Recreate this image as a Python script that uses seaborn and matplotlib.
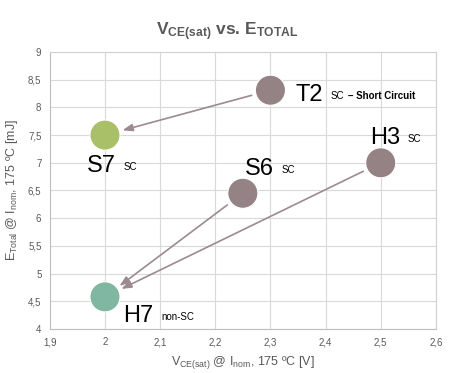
import matplotlib
matplotlib.use("Agg")
import matplotlib.pyplot as plt
import pandas as pd
import seaborn as sns

# Data
devices = ["T2", "S7", "S6", "H3", "H7"]
vce_sat = [2.30, 2.00, 2.25, 2.50, 2.00]
e_total = [8.31, 7.50, 6.45, 7.00, 4.58]
suffixes = ["SC", "SC", "SC", "SC", "non-SC"]
colors = ["#958285", "#a9bf68", "#958285", "#958285", "#80b7a3"]
# arrows: (from, to)
arrows = [("T2", "S7"), ("S6", "H7"), ("H3", "H7")]

x_ticks = [1.9, 2.0, 2.1, 2.2, 2.3, 2.4, 2.5, 2.6]
y_ticks = [4, 4.5, 5, 5.5, 6, 6.5, 7, 7.5, 8, 8.5, 9]

df = pd.DataFrame({"device": devices, "vce": vce_sat, "etot": e_total})

sns.set_theme(style="whitegrid")
plt.rcParams["font.family"] = ["Liberation Sans", "DejaVu Sans"]
plt.rcParams["mathtext.fontset"] = "custom"
plt.rcParams["mathtext.rm"] = "Liberation Sans"
plt.rcParams["mathtext.bf"] = "Liberation Sans:bold"

fig = plt.figure(figsize=(4.55, 3.73), dpi=100)
ax = fig.add_axes([0.1095, 0.118, 0.8485, 0.7426])

sns.scatterplot(data=df, x="vce", y="etot", hue="device", palette=colors,
                s=470, edgecolor="white", linewidth=0.8, legend=False, ax=ax, zorder=3)

grey = "#595959"
ax.set_xlim(1.9, 2.6)
ax.set_ylim(4, 9)
ax.set_xticks(x_ticks)
ax.set_yticks(y_ticks)
fmt = lambda v: f"{v:g}".replace(".", ",")
ax.set_xticklabels([fmt(v) for v in x_ticks], fontsize=7, color=grey)
ax.set_yticklabels([fmt(v) for v in y_ticks], fontsize=7, color=grey)
ax.tick_params(length=0, pad=6)
ax.grid(color="#d9d9d9", linewidth=0.8)
for side, sp in ax.spines.items():
    sp.set_color("#d0d0d0")
    sp.set_linewidth(0.8)
ax.spines["left"].set_color("#bfbfbf")
ax.spines["bottom"].set_color("#bfbfbf")

ax.set_xlabel(r"V$_{\mathrm{CE(sat)}}$ @ I$_{\mathrm{nom}}$, 175 ºC [V]", fontsize=9, color=grey, labelpad=5)
ax.set_ylabel(r"E$_{\mathrm{Total}}$ @ I$_{\mathrm{nom}}$, 175 ºC [mJ]", fontsize=9, color=grey, labelpad=6)
fig.text(0.5, 0.884, r"$\mathbf{V_{CE(sat)}}$ vs. $\mathbf{E_{TOTAL}}$",
         ha="center", va="bottom", fontsize=12.5, fontweight="bold", color=grey)

# arrows between devices
pos = dict(zip(devices, zip(vce_sat, e_total)))
for src, dst in arrows:
    ax.annotate("", xy=pos[dst], xytext=pos[src],
                arrowprops=dict(arrowstyle="-|>,head_length=0.5,head_width=0.18",
                                color="#9c8a8e", lw=1.2, shrinkA=14, shrinkB=13),
                zorder=2)

# labels: big name + small suffix
label_pos = {"T2": (2.346, 8.12), "S7": (1.967, 6.83), "S6": (2.254, 6.78),
             "H3": (2.480, 7.34), "H7": (2.033, 4.125)}
for name, suf in zip(devices, suffixes):
    lx, ly = label_pos[name]
    t = ax.text(lx, ly, name, fontsize=17, color="black", va="baseline", zorder=4)
    a = ax.annotate(suf, xy=(1, 0), xycoords=t, xytext=(5.5, 3.6), textcoords="offset points",
                    fontsize=7, color="black", va="bottom", zorder=4)
    if name == "T2":
        ax.annotate("– Short Circuit", xy=(1, 0), xycoords=a, xytext=(2.5, 0),
                    textcoords="offset points", fontsize=7, fontweight="bold",
                    color="black", va="bottom", zorder=4)

fig.savefig("out.png", dpi=100)
